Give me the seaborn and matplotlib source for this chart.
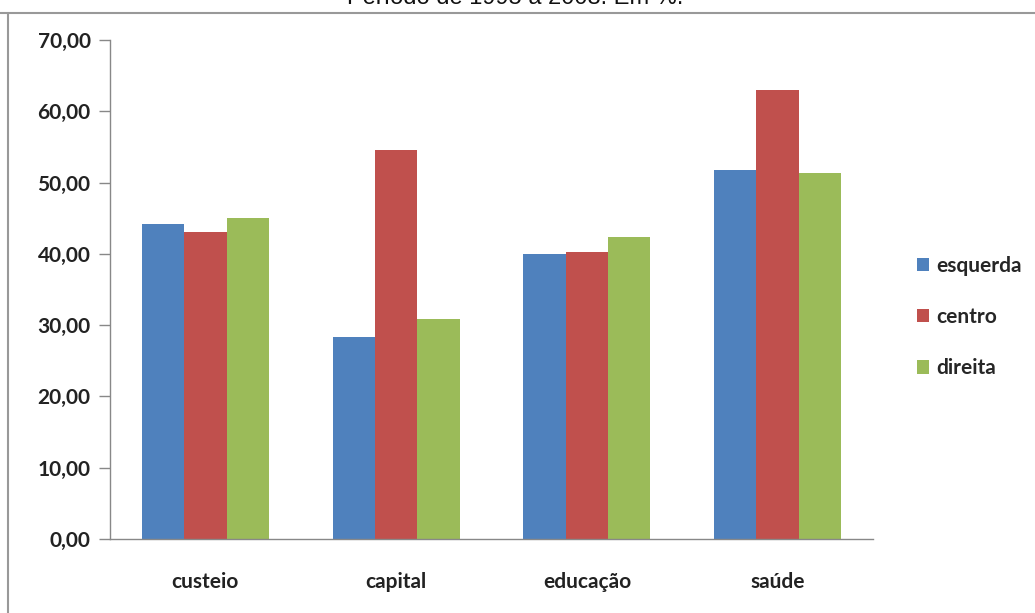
import matplotlib
matplotlib.use("Agg")
import matplotlib.pyplot as plt
from matplotlib.patches import Patch
from matplotlib.lines import Line2D
import numpy as np
import pandas as pd
import seaborn as sns

# data
categories = ["custeio", "capital", "educação", "saúde"]
series = ["esquerda", "centro", "direita"]
esquerda = [44.2, 28.4, 40.0, 51.7]
centro = [43.0, 54.5, 40.2, 63.0]
direita = [45.1, 30.9, 42.3, 51.3]
yticks = [0, 10, 20, 30, 40, 50, 60, 70]
colors = ["#4f81bd", "#c0504d", "#9bbb59"]
title = "Período de 1995 a 2008. Em %."

df = pd.DataFrame({
    "categoria": categories * 3,
    "grupo": [s for s in series for _ in categories],
    "valor": esquerda + centro + direita,
})

sns.set_style("white")
plt.rcParams["font.family"] = ["Lato", "DejaVu Sans"]

fig = plt.figure(figsize=(10.35, 6.13), dpi=100)
ax = fig.add_axes([110 / 1035, 74 / 613, 763 / 1035, 499 / 613])

sns.barplot(data=df, x="categoria", y="valor", hue="grupo", order=categories,
            hue_order=series, palette=colors, width=0.665, saturation=1,
            linewidth=0, legend=False, ax=ax)

ax.set_ylim(0, 70)
ax.set_xlim(-0.5, len(categories) - 0.5)
ax.set_yticks(yticks)
ax.set_yticklabels([f"{v:.2f}".replace(".", ",") for v in yticks],
                   fontsize=15, fontweight="bold", color="#222222")
ax.set_xticks(range(len(categories)))
ax.set_xticklabels(categories, fontsize=15, fontweight="bold", color="#222222")
ax.set_xticks(np.arange(-0.5, len(categories)), minor=True)
ax.tick_params(axis="x", which="major", length=0, pad=24)
ax.tick_params(axis="x", which="minor", length=8, width=1, color="#888888", direction="out")
ax.tick_params(axis="y", length=8, width=1, color="#888888", direction="out", pad=6, left=True)
ax.set_xlabel("")
ax.set_ylabel("")
for side in ["top", "right"]:
    ax.spines[side].set_visible(False)
for side in ["left", "bottom"]:
    ax.spines[side].set_color("#888888")
    ax.spines[side].set_linewidth(1)

handles = [Patch(facecolor=c, edgecolor="none") for c in colors]
fig.legend(handles, series, loc="center left", bbox_to_anchor=(898 / 1035, 1 - 317 / 613),
           frameon=False, prop={"family": "Lato", "weight": "bold", "size": 15},
           handlelength=0.6, handleheight=0.6, handletextpad=0.35, labelspacing=1.5)

# cut-off title and outer frame
fig.text(515 / 1035, 1 + 2 / 613, title, ha="center", va="center", fontsize=17,
         family="Liberation Sans", color="#111111")
fig.add_artist(Line2D([0, 1], [1 - 13 / 613, 1 - 13 / 613], color="#999999", lw=1.5))
fig.add_artist(Line2D([8 / 1035, 8 / 1035], [0, 1 - 13 / 613], color="#999999", lw=1.5))

fig.savefig("out.png", dpi=100)
